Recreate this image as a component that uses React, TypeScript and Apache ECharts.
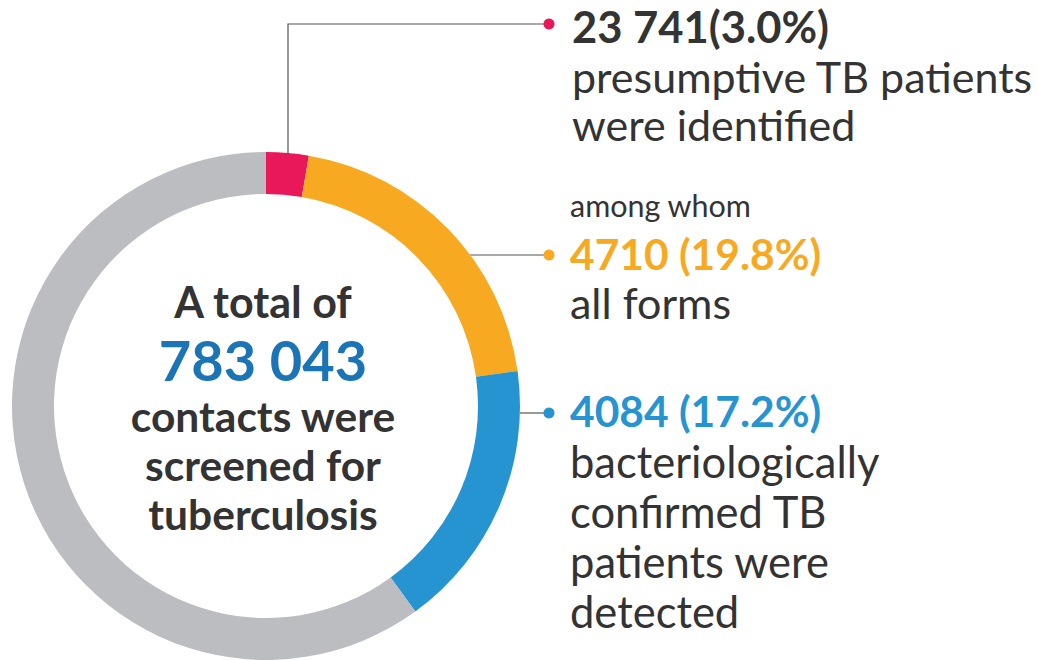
import React, { useEffect, useRef } from "react";
import * as echarts from "echarts";

// Ring segments (share of the ring as drawn, %)
const segmentNames = ["Presumptive TB patients", "All forms", "Bacteriologically confirmed", "Other contacts"];
const segmentValues = [2.7, 20.1, 17.2, 60.0];
const segmentColors = ["#E8185A", "#F8A922", "#2794D2", "#BCBDC0"];

// Annotation texts
const centerLines = ["A total of", "783 043", "contacts were", "screened for", "tuberculosis"];
const redHead = "23 741(3.0%)";
const redBody = ["presumptive TB patients", "were identified"];
const orangeIntro = "among whom";
const orangeHead = "4710 (19.8%)";
const orangeBody = ["all forms"];
const blueHead = "4084 (17.2%)";
const blueBody = ["bacteriologically", "confirmed TB", "patients were", "detected"];

const FONT = "Lato, 'Noto Sans', sans-serif";
const DARK = "#333333";
const CENTER_BLUE = "#1A74B6";

const CX = 266;
const CY = 406;
const R_OUT = 254;
const R_IN = 212;

// place text by its alphabetic baseline using 'middle' alignment
const BASE_OFF = 0.387;
function txt(text: string, x: number, baseline: number, size: number, weight: string, fill: string, align = "left", lh?: number) {
  return {
    type: "text",
    z: 10,
    silent: true,
    style: {
      text,
      x,
      y: baseline - BASE_OFF * size,
      font: `${weight} ${size}px ${FONT}`,
      fill,
      align,
      verticalAlign: "middle",
      lineHeight: lh ?? size,
    },
  };
}

function edgeX(y: number) {
  const dy = y - CY;
  return CX + Math.sqrt(R_OUT * R_OUT - dy * dy);
}

export default function App() {
  const ref = useRef<HTMLDivElement>(null);
  useEffect(() => {
    if (!ref.current) return;
    const chart = echarts.init(ref.current, undefined, { renderer: "svg" });

    const graphics: any[] = [];
    const lineStyle = { stroke: "#555555", lineWidth: 1.2, fill: "none" };
    const dotX = 549;

    // red connector
    const redY = 24;
    graphics.push({ type: "polyline", z: 1, silent: true, shape: { points: [[288, CY - R_OUT + 2], [288, redY], [dotX, redY]] }, style: lineStyle });
    graphics.push({ type: "circle", z: 5, silent: true, shape: { cx: dotX, cy: redY, r: 5.5 }, style: { fill: segmentColors[0] } });
    // orange connector
    const orY = 255;
    graphics.push({ type: "line", z: 1, silent: true, shape: { x1: edgeX(orY), y1: orY, x2: dotX, y2: orY }, style: lineStyle });
    graphics.push({ type: "circle", z: 5, silent: true, shape: { cx: dotX, cy: orY, r: 5.5 }, style: { fill: segmentColors[1] } });
    // blue connector
    const blY = 413;
    graphics.push({ type: "line", z: 1, silent: true, shape: { x1: edgeX(blY), y1: blY, x2: dotX, y2: blY }, style: lineStyle });
    graphics.push({ type: "circle", z: 5, silent: true, shape: { cx: dotX, cy: blY, r: 5.5 }, style: { fill: segmentColors[2] } });

    // red block
    graphics.push(txt(redHead, 572, 43, 43.5, "bold", DARK));
    redBody.forEach((t, i) => graphics.push(txt(t, 572, 93 + i * 48, 43, "normal", DARK)));
    // orange block
    graphics.push(txt(orangeIntro, 570, 217, 30.5, "normal", DARK));
    graphics.push(txt(orangeHead, 570, 270, 42.5, "bold", segmentColors[1]));
    orangeBody.forEach((t, i) => graphics.push(txt(t, 570, 319 + i * 50, 43, "normal", DARK)));
    // blue block
    graphics.push(txt(blueHead, 570, 427, 42.5, "bold", segmentColors[2]));
    blueBody.forEach((t, i) => graphics.push(txt(t, 570, 478 + i * 50, 43.5, "normal", DARK)));

    // center text
    const cxText = 263;
    graphics.push(txt(centerLines[0], cxText, 318, 43, "bold", DARK, "center", 38));
    graphics.push(txt(centerLines[1], cxText, 381, 56, "bold", CENTER_BLUE, "center", 46));
    graphics.push(txt(centerLines[2], cxText, 432, 42.5, "bold", DARK, "center", 38));
    graphics.push(txt(centerLines[3], cxText, 481, 42.5, "bold", DARK, "center", 38));
    graphics.push(txt(centerLines[4], cxText, 530, 42.5, "bold", DARK, "center", 38));

    chart.setOption({
      animation: false,
      backgroundColor: "#ffffff",
      series: [
        {
          type: "pie",
          center: [CX, CY],
          radius: [R_IN, R_OUT],
          startAngle: 90,
          clockwise: true,
          silent: true,
          z: 2,
          label: { show: false },
          labelLine: { show: false },
          emphasis: { disabled: true },
          data: segmentNames.map((name, i) => ({
            name,
            value: segmentValues[i],
            itemStyle: { color: segmentColors[i], borderWidth: 0 },
          })),
        },
      ],
      graphic: graphics,
    });

    return () => chart.dispose();
  }, []);

  return (
    <div
      ref={ref}
      style={{ position: "absolute", left: 0, top: 0, width: 1038, height: 660 }}
    />
  );
}
